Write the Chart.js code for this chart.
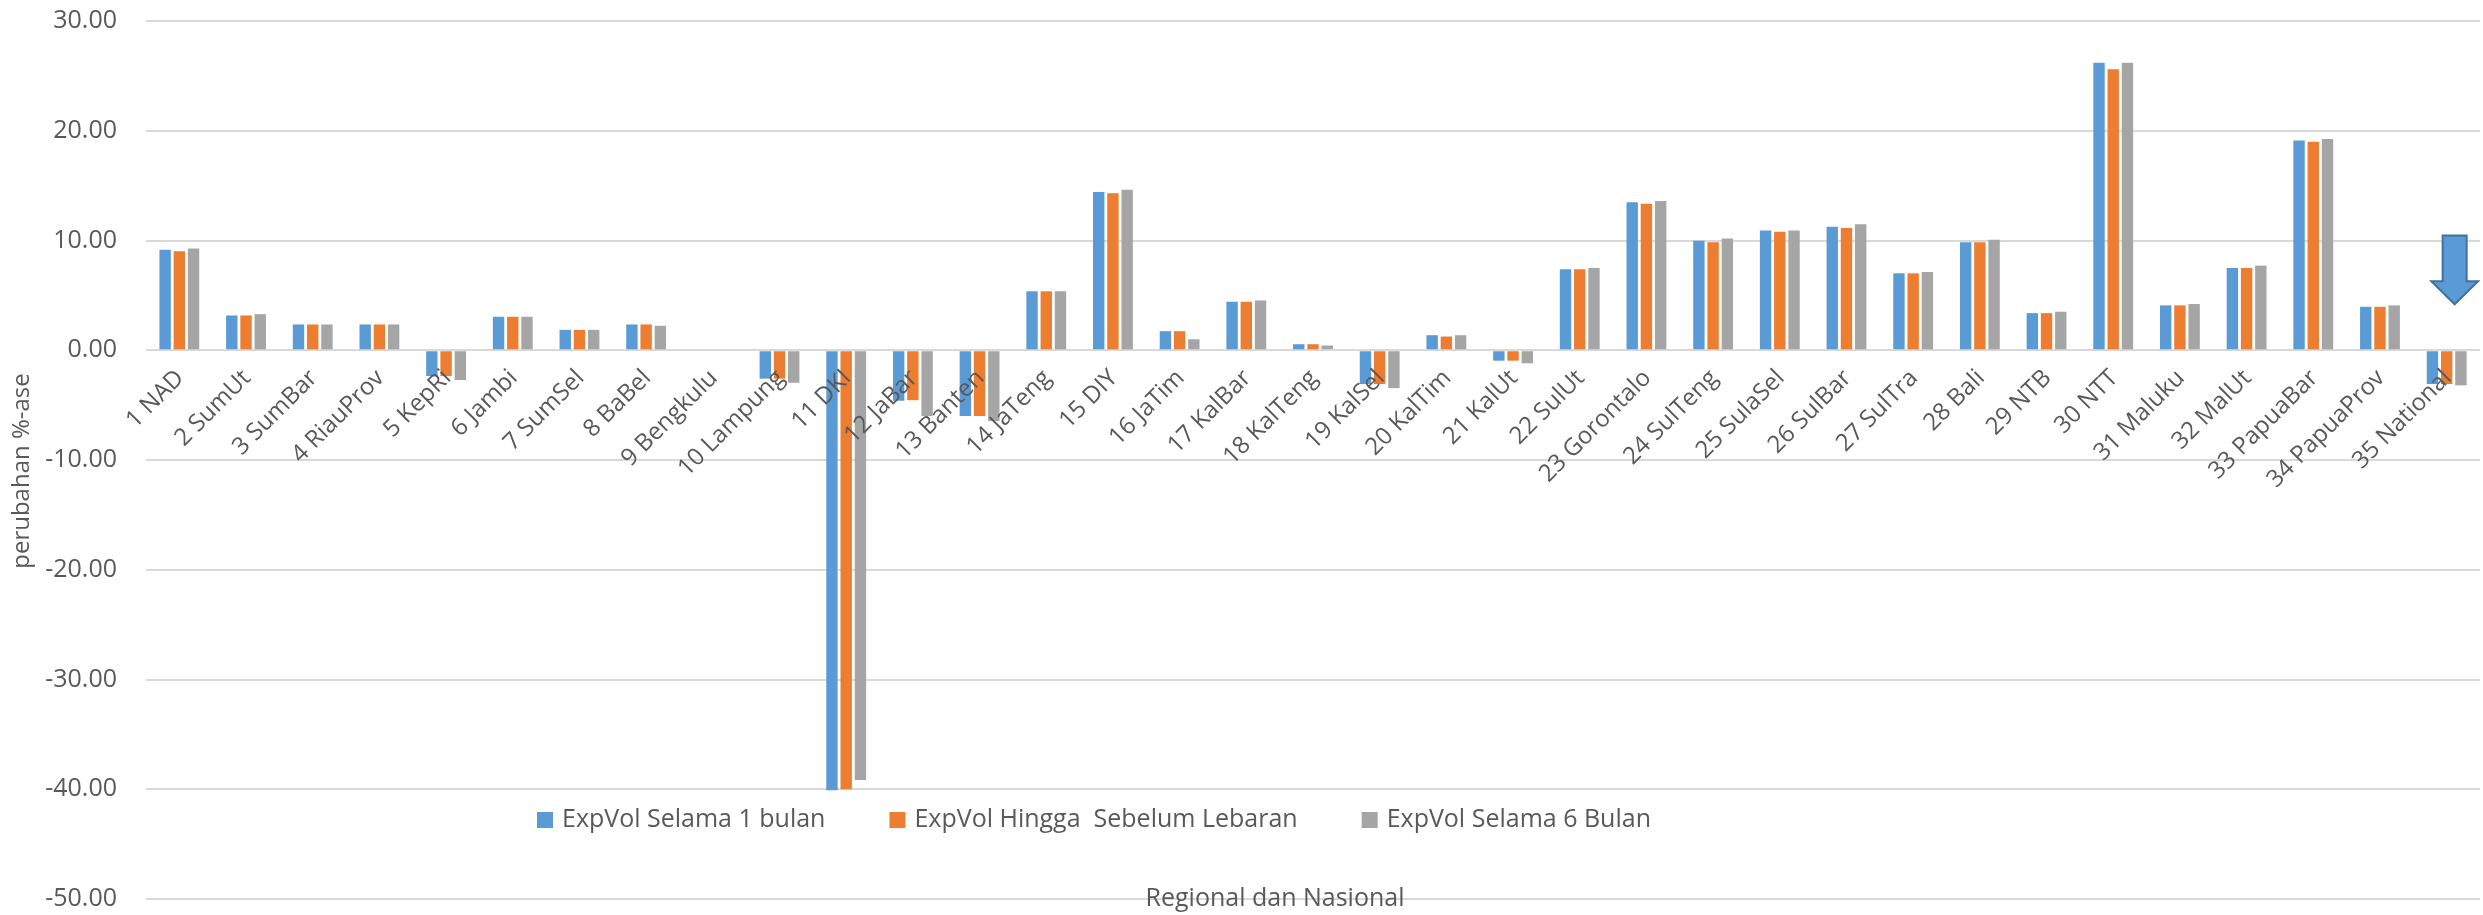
<!DOCTYPE html>
<html>
<head>
<meta charset="utf-8">
<script src="https://cdn.jsdelivr.net/npm/chart.js@4.4.1/dist/chart.umd.min.js"></script>
<style>
  html, body { margin: 0; padding: 0; background: #fff; }
  #wrap { width: 2483px; height: 915px; position: relative; }
</style>
</head>
<body>
<div id="wrap"><canvas id="expvolChart"></canvas></div>
<script>
// provinsi + nasional
const regions = ['1 NAD', '2 SumUt', '3 SumBar', '4 RiauProv', '5 KepRi', '6 Jambi', '7 SumSel', '8 BaBel',
  '9 Bengkulu', '10 Lampung', '11 DKI', '12 JaBar', '13 Banten', '14 JaTeng', '15 DIY', '16 JaTim',
  '17 KalBar', '18 KalTeng', '19 KalSel', '20 KalTim', '21 KalUt', '22 SulUt', '23 Gorontalo',
  '24 SulTeng', '25 SulaSel', '26 SulBar', '27 SulTra', '28 Bali', '29 NTB', '30 NTT', '31 Maluku',
  '32 MalUt', '33 PapuaBar', '34 PapuaProv', '35 National'];

const seriesNames = ['ExpVol Selama 1 bulan', 'ExpVol Hingga  Sebelum Lebaran', 'ExpVol Selama 6 Bulan'];

const expVol1Bulan = [9.15, 3.17, 2.35, 2.35, -2.35, 3.05, 1.86, 2.35, 0, -2.59, -40.1, -4.6, -6.0, 5.37,
  14.42, 1.74, 4.42, 0.55, -3.08, 1.37, -0.95, 7.38, 13.48, 9.97, 10.91, 11.25, 7.01, 9.85, 3.38,
  26.19, 4.09, 7.5, 19.12, 3.96, -3.08];

const expVolSebelumLebaran = [9.02, 3.17, 2.35, 2.35, -2.35, 3.05, 1.86, 2.35, 0, -2.59, -40.0, -4.55, -6.0,
  5.37, 14.3, 1.74, 4.42, 0.55, -3.08, 1.25, -0.95, 7.38, 13.35, 9.85, 10.79, 11.13, 7.01, 9.85, 3.38,
  25.61, 4.09, 7.5, 18.99, 3.96, -3.08];

const expVol6Bulan = [9.27, 3.29, 2.35, 2.35, -2.71, 3.05, 1.86, 2.23, 0, -2.96, -39.16, -6.0, -6.46, 5.37,
  14.63, 1.0, 4.54, 0.43, -3.45, 1.37, -1.19, 7.5, 13.6, 10.18, 10.91, 11.49, 7.13, 10.06, 3.51,
  26.19, 4.21, 7.71, 19.24, 4.09, -3.2];

const yTicks = [30, 20, 10, 0, -10, -20, -30, -40, -50];

// panah di atas batang nasional (indeks kategori, nilai y)
const arrowAt = { index: 34.12, top: 10.46, headStart: 6.28, tip: 4.19 };

var barColors = ['#5B9BD5', '#ED7D31', '#A5A5A5'];
var textColor = '#595959';
var fontFamily = '"Open Sans", "Liberation Sans", sans-serif';

var overlayPlugin = {
  id: 'overlay',
  afterDatasetsDraw(chart) {
    const ctx = chart.ctx;
    const area = chart.chartArea;
    const xs = chart.scales.x;
    const ys = chart.scales.y;
    ctx.save();

    // category labels, 45 deg, hanging just under the zero line
    const y0 = ys.getPixelForValue(0);
    ctx.fillStyle = textColor;
    ctx.font = '24px ' + fontFamily;
    ctx.textAlign = 'right';
    ctx.textBaseline = 'middle';
    chart.data.labels.forEach((label, i) => {
      ctx.save();
      ctx.translate(xs.getPixelForValue(i) + 1, y0 + 24);
      ctx.rotate(-Math.PI / 4);
      ctx.fillText(label, 0, 0);
      ctx.restore();
    });

    // y axis title
    ctx.font = '24px ' + fontFamily;
    ctx.textAlign = 'center';
    ctx.translate(22, 471);
    ctx.rotate(-Math.PI / 2);
    ctx.fillText('perubahan %-ase', 0, 0);
    ctx.setTransform(1, 0, 0, 1, 0, 0);

    // legend, sits inside the plot between -40 and -50
    ctx.font = '25px ' + fontFamily;
    ctx.textAlign = 'left';
    let lx = area.left + 391;
    const ly = 820;
    chart.data.datasets.forEach((ds) => {
      ctx.fillStyle = ds.backgroundColor;
      ctx.fillRect(lx, ly - 8, 16, 16);
      ctx.fillStyle = textColor;
      ctx.fillText(ds.label, lx + 25, ly);
      lx += 25 + ctx.measureText(ds.label).width + 64;
    });

    // x axis title over the bottom gridline
    ctx.textAlign = 'center';
    ctx.fillText('Regional dan Nasional', 1275, area.bottom);

    // down arrow
    const cx = xs.getPixelForValue(arrowAt.index);
    const w = xs.getPixelForValue(1) - xs.getPixelForValue(0);
    const shaft = w * 0.18;
    const head = w * 0.35;
    const yTop = ys.getPixelForValue(arrowAt.top);
    const yHead = ys.getPixelForValue(arrowAt.headStart);
    const yTip = ys.getPixelForValue(arrowAt.tip);
    ctx.beginPath();
    ctx.moveTo(cx - shaft, yTop);
    ctx.lineTo(cx + shaft, yTop);
    ctx.lineTo(cx + shaft, yHead);
    ctx.lineTo(cx + head, yHead);
    ctx.lineTo(cx, yTip);
    ctx.lineTo(cx - head, yHead);
    ctx.lineTo(cx - shaft, yHead);
    ctx.closePath();
    ctx.fillStyle = '#5B9BD5';
    ctx.fill();
    ctx.lineWidth = 2;
    ctx.strokeStyle = '#41719C';
    ctx.stroke();

    ctx.restore();
  }
};

const ctx = document.getElementById('expvolChart');

new Chart(ctx, {
  type: 'bar',
  data: {
    labels: regions,
    datasets: [
      { label: seriesNames[0], data: expVol1Bulan, backgroundColor: barColors[0] },
      { label: seriesNames[1], data: expVolSebelumLebaran, backgroundColor: barColors[1] },
      { label: seriesNames[2], data: expVol6Bulan, backgroundColor: barColors[2] }
    ]
  },
  options: {
    responsive: true,
    maintainAspectRatio: false,
    devicePixelRatio: 1,
    animation: false,
    layout: { padding: { top: 21, right: 3, bottom: 16, left: 0 } },
    datasets: {
      bar: { categoryPercentage: 0.64, barPercentage: 0.8 }
    },
    plugins: {
      legend: { display: false },
      tooltip: { enabled: false }
    },
    scales: {
      x: {
        position: { y: 0 },
        grid: { display: false, drawTicks: false },
        border: { display: false },
        ticks: { display: false }
      },
      y: {
        min: -50,
        max: 30,
        afterFit(scale) {
          // fixed gutter for the tick labels, no extra half-label padding
          scale.width = 146;
          scale.paddingTop = 0;
          scale.paddingBottom = 0;
        },
        afterBuildTicks(scale) { scale.ticks = yTicks.map((v) => ({ value: v })); },
        grid: { color: '#D9D9D9', lineWidth: 2, drawTicks: false },
        border: { display: false },
        ticks: {
          color: textColor,
          font: { family: fontFamily, size: 25 },
          padding: 29,
          callback: (v) => v.toFixed(2)
        }
      }
    }
  },
  plugins: [overlayPlugin]
});
</script>
</body>
</html>
